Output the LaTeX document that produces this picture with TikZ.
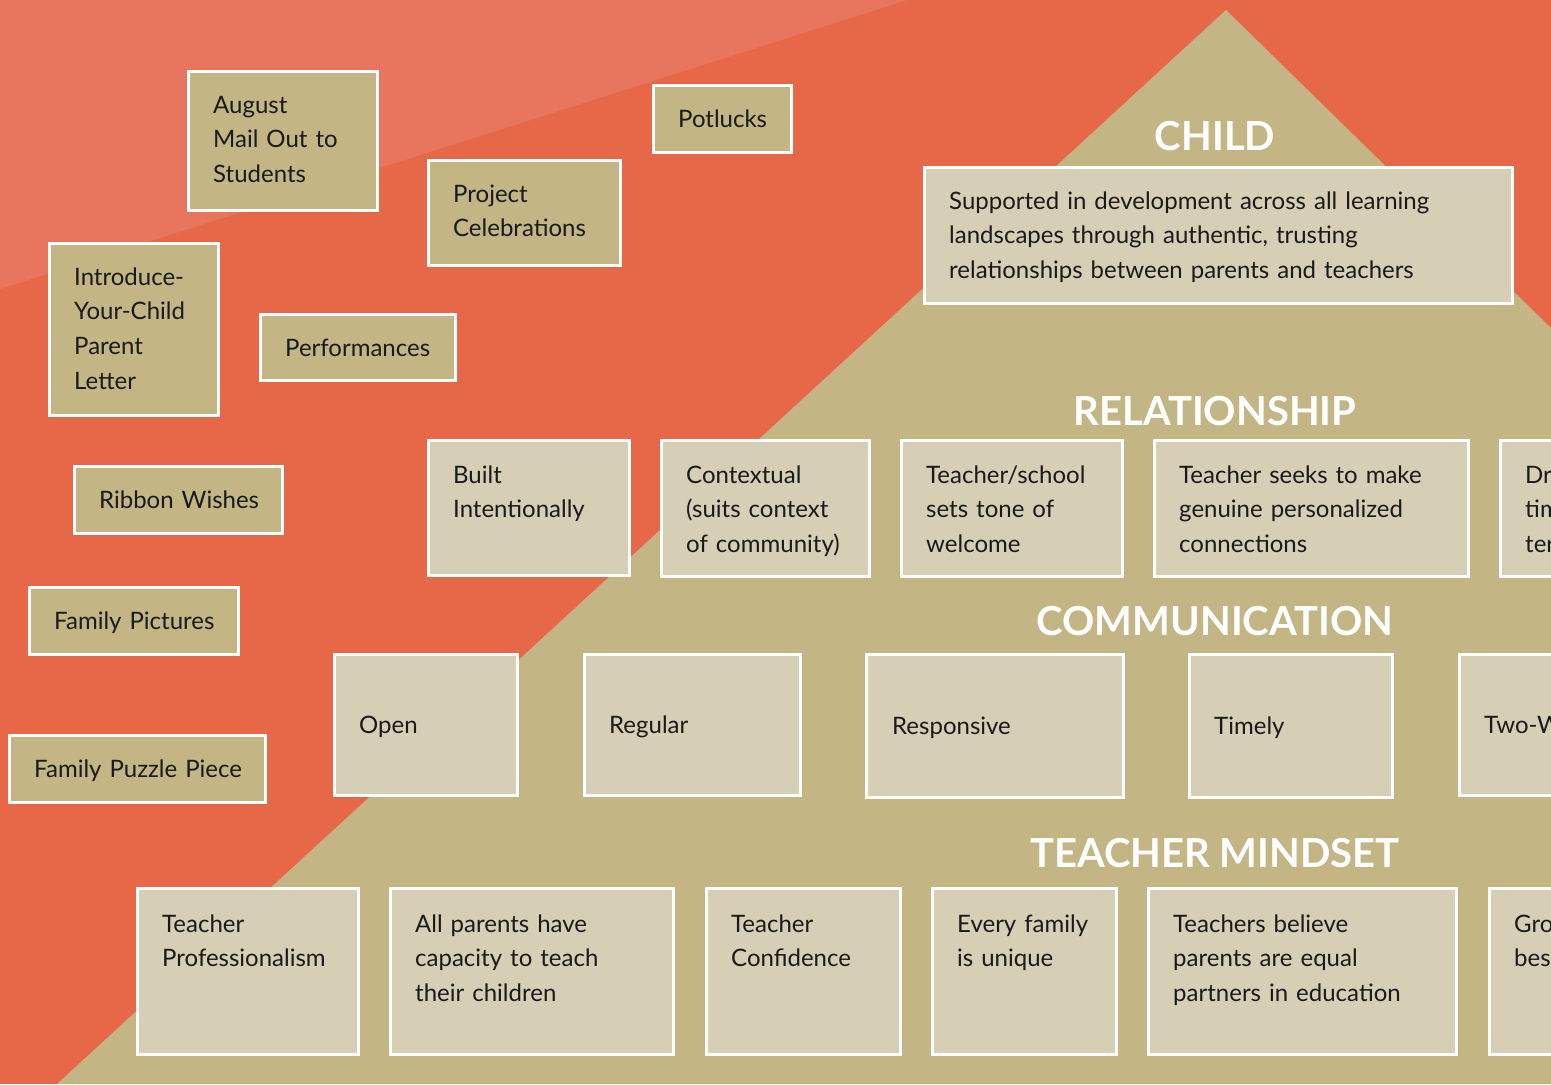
\documentclass[tikz,border=0pt]{standalone}
\usepackage{fontspec}
\setmainfont{Lato}
\definecolor{bgred}{HTML}{E66849}
\definecolor{bandred}{HTML}{E8765F}
\definecolor{tanfill}{HTML}{C3B584}
\definecolor{palefill}{HTML}{D6CEB5}
\definecolor{ink}{HTML}{1A1A1A}
\begin{document}
\begin{tikzpicture}[x=1bp,y=-1bp,
  % a card is given by its outer size, white frame included
  card/.style 2 args={draw=white, line width=3bp, anchor=north west, inner sep=0pt,
    minimum width=#1bp-3bp, minimum height=#2bp-3bp},
  outer/.style 2 args={card={#1}{#2}, fill=tanfill},
  inner/.style 2 args={card={#1}{#2}, fill=palefill},
  lbl/.style={anchor=base west, align=left, text width=560bp, inner sep=0pt, text=ink,
    font=\fontsize{24bp}{34.7bp}\selectfont},
  head/.style={anchor=base, inner sep=0pt, text=white,
    font=\fontsize{40bp}{42bp}\selectfont\bfseries},
]
\useasboundingbox (0,0) rectangle (1551,1084);
\clip (0,0) rectangle (1551,1084);

% background
\fill[bgred] (0,0) rectangle (1551,1084);
\fill[bandred] (0,0) -- (907,0) -- (0,289) -- cycle;
% pyramid
\fill[tanfill] (1226,10) -- (57,1084) -- (1551,1084) -- (1551,328) -- cycle;

% activities around the pyramid
\node[outer={192}{142}] (aug) at (187,70) {};
\node[lbl] (aug-t) at ([shift={(26,43)}]aug.north west) {August\\Mail Out to\\Students};
\node[outer={141}{70}] (pot) at (652,84) {};
\node[lbl] (pot-t) at ([shift={(26,43)}]pot.north west) {Potlucks};
\node[outer={195}{108}] (proj) at (427,159) {};
\node[lbl] (proj-t) at ([shift={(26,43)}]proj.north west) {Project\\Celebrations};
\node[outer={172}{175}] (intro) at (48,242) {};
\node[lbl] (intro-t) at ([shift={(26,43)}]intro.north west) {Introduce-\\Your-Child\\Parent\\Letter};
\node[outer={198}{69}] (perf) at (259,313) {};
\node[lbl] (perf-t) at ([shift={(26,43)}]perf.north west) {Performances};
\node[outer={211}{70}] (rib) at (73,465) {};
\node[lbl] (rib-t) at ([shift={(26,43)}]rib.north west) {Ribbon Wishes};
\node[outer={212}{70}] (fpic) at (28,586) {};
\node[lbl] (fpic-t) at ([shift={(26,43)}]fpic.north west) {Family Pictures};
\node[outer={259}{70}] (fpuz) at (8,734) {};
\node[lbl] (fpuz-t) at ([shift={(26,43)}]fpuz.north west) {Family Puzzle Piece};

% child
\node[head] (h-child) at (1215,150) {CHILD};
\node[inner={591}{139}] (child) at (923,166) {};
\node[lbl] (child-t) at ([shift={(26,43)}]child.north west)
  {Supported in development across all learning\\landscapes through authentic, trusting\\relationships between parents and teachers};

% relationship
\node[head] (h-rel) at (1215,425) {RELATIONSHIP};
\node[inner={204}{138}] (built) at (427,439) {};
\node[lbl] (built-t) at ([shift={(26,44)}]built.north west) {Built\\Intentionally};
\node[inner={211}{139}] (ctx) at (660,439) {};
\node[lbl] (ctx-t) at ([shift={(26,44)}]ctx.north west) {Contextual\\(suits context\\of community)};
\node[inner={224}{139}] (tone) at (900,439) {};
\node[lbl] (tone-t) at ([shift={(26,44)}]tone.north west) {Teacher/school\\sets tone of\\welcome};
\node[inner={317}{139}] (seek) at (1153,439) {};
\node[lbl] (seek-t) at ([shift={(26,44)}]seek.north west) {Teacher seeks to make\\genuine personalized\\connections};
\node[inner={200}{139}] (dr) at (1499,439) {};
\node[lbl] (dr-t) at ([shift={(26,44)}]dr.north west) {Dr\\tim\\ter};

% communication
\node[head] (h-com) at (1215,635) {COMMUNICATION};
\node[inner={186}{144}] (open) at (333,653) {};
\node[lbl] (open-t) at ([shift={(26,80)}]open.north west) {Open};
\node[inner={219}{144}] (reg) at (583,653) {};
\node[lbl] (reg-t) at ([shift={(26,80)}]reg.north west) {Regular};
\node[inner={260}{146}] (resp) at (865,653) {};
\node[lbl] (resp-t) at ([shift={(27,81)}]resp.north west) {Responsive};
\node[inner={206}{146}] (timely) at (1188,653) {};
\node[lbl] (timely-t) at ([shift={(26,81)}]timely.north west) {Timely};
\node[inner={200}{144}] (two) at (1458,653) {};
\node[lbl] (two-t) at ([shift={(26,80)}]two.north west) {Two-W};

% teacher mindset
\node[head] (h-mind) at (1215,867) {TEACHER MINDSET};
\node[inner={224}{169}] (prof) at (136,887) {};
\node[lbl] (prof-t) at ([shift={(26,45)}]prof.north west) {Teacher\\Professionalism};
\node[inner={286}{169}] (capa) at (389,887) {};
\node[lbl] (capa-t) at ([shift={(26,45)}]capa.north west) {All parents have\\capacity to teach\\their children};
\node[inner={197}{169}] (conf) at (705,887) {};
\node[lbl] (conf-t) at ([shift={(26,45)}]conf.north west) {Teacher\\Confidence};
\node[inner={187}{169}] (uniq) at (931,887) {};
\node[lbl] (uniq-t) at ([shift={(26,45)}]uniq.north west) {Every family\\is unique};
\node[inner={311}{169}] (equal) at (1147,887) {};
\node[lbl] (equal-t) at ([shift={(26,45)}]equal.north west) {Teachers believe\\parents are equal\\partners in education};
\node[inner={200}{169}] (gro) at (1488,887) {};
\node[lbl] (gro-t) at ([shift={(26,45)}]gro.north west) {Gro\\bes};
\end{tikzpicture}
\end{document}
